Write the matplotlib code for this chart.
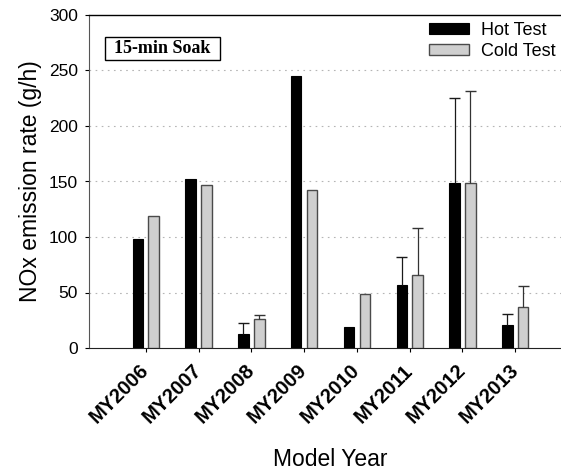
import matplotlib
matplotlib.use("Agg")
import matplotlib.pyplot as plt
import numpy as np
from matplotlib.patches import Rectangle

categories = ["MY2006", "MY2007", "MY2008", "MY2009", "MY2010", "MY2011", "MY2012", "MY2013"]
hot_values = [98, 152, 13, 245, 19, 56.5, 148.5, 21]
cold_values = [119, 147, 26.5, 142.5, 48.5, 65.5, 149, 36.5]
hot_err = [0, 0, 9.8, 0, 0, 25.5, 77, 9.3]
cold_err = [0, 0, 3.5, 0, 0, 42.3, 82.5, 19]
y_ticks = [0, 50, 100, 150, 200, 250, 300]

plt.rcParams['font.family'] = ['Liberation Sans', 'DejaVu Sans']

W, H = 561, 473
fig = plt.figure(figsize=(W / 100, H / 100), dpi=100)
ax = fig.add_axes([89 / W, 1 - 348 / H, (571 - 89) / W, 333 / H])

x = np.arange(len(categories))
w = 0.2
off = 0.15
ax.bar(x - off, hot_values, width=w, color='black', edgecolor='black', linewidth=0.8,
       label='Hot Test', zorder=3)
ax.bar(x + off, cold_values, width=w, color='#cfcfcf', edgecolor='#4a4a4a', linewidth=1.0,
       label='Cold Test', zorder=3)

cap = 0.105
for xs, vals, errs, col in [(x - off, hot_values, hot_err, '#1a1a1a'),
                            (x + off, cold_values, cold_err, '#333333')]:
    for xi, v, e in zip(xs, vals, errs):
        if e > 0:
            ax.vlines(xi, v, v + e, color=col, linewidth=0.9, zorder=4)
            ax.hlines(v + e, xi - cap, xi + cap, color=col, linewidth=1.0, zorder=4)

ax.set_xlim(-1.074, 8.055)
ax.set_ylim(0, 300)
ax.set_yticks(y_ticks)
ax.set_yticklabels([str(t) for t in y_ticks], fontsize=12.5)
ax.set_xticks(x)
ax.set_xticklabels(categories, rotation=45, ha='right', va='center', rotation_mode='anchor',
                   fontsize=14.5, fontweight='bold')
ax.tick_params(axis='both', direction='out', length=3.1, width=0.8)
ax.tick_params(axis='y', pad=5)
ax.tick_params(axis='x', pad=11)

for yv in y_ticks[1:-1]:
    ax.axhline(yv, color='#b5b5b5', linestyle=(0, (1.5, 4)), linewidth=0.8, zorder=1)

ax.spines['right'].set_visible(False)
ax.spines['top'].set_linewidth(1.0)
ax.spines['left'].set_color('#555555')
ax.spines['bottom'].set_color('#222222')

ax.set_ylabel('NOx emission rate (g/h)', fontsize=16.5, labelpad=5)
ax.set_xlabel('Model Year', fontsize=16.5, labelpad=15)

leg = ax.legend(loc='upper right', bbox_to_anchor=(556 / W, 1 - 22 / H),
                bbox_transform=fig.transFigure, frameon=False, fontsize=13,
                handlelength=2.25, handleheight=0.55, handletextpad=0.66, labelspacing=0.2,
                borderaxespad=0, borderpad=0)

fig.patches.append(Rectangle((105 / W, 1 - 60 / H), 115 / W, 23 / H, transform=fig.transFigure,
                             facecolor='white', edgecolor='black', linewidth=1.0, zorder=5))
fig.text(162.5 / W, 1 - 48.5 / H, '15-min Soak', fontsize=13, fontweight='bold',
         family=['Liberation Serif', 'DejaVu Serif'], ha='center', va='center', zorder=6)

fig.savefig('out.png', dpi=100)
